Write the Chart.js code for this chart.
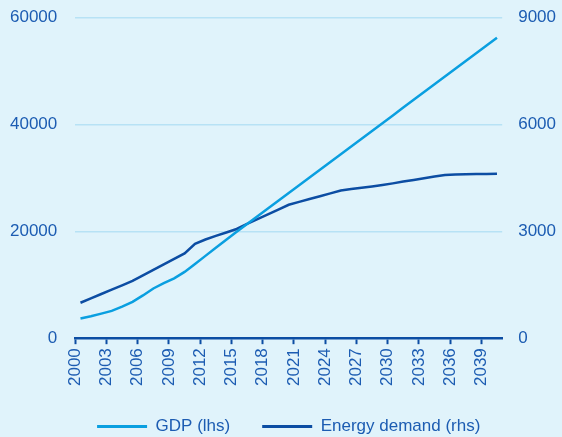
<!DOCTYPE html>
<html>
<head>
<meta charset="utf-8">
<script src="https://cdn.jsdelivr.net/npm/chart.js@4.4.1/dist/chart.umd.min.js"></script>
<style>
  html, body { margin: 0; padding: 0; background: #e0f3fb; }
  #wrap { width: 562px; height: 437px; position: relative; }
</style>
</head>
<body>
<div id="wrap"><canvas id="myChart"></canvas></div>
<script>
// annual series, 2000-2040
const years = [2000, 2001, 2002, 2003, 2004, 2005, 2006, 2007, 2008, 2009,
  2010, 2011, 2012, 2013, 2014, 2015, 2016, 2017, 2018, 2019,
  2020, 2021, 2022, 2023, 2024, 2025, 2026, 2027, 2028, 2029,
  2030, 2031, 2032, 2033, 2034, 2035, 2036, 2037, 2038, 2039, 2040];

const gdp = [3700, 4100, 4600, 5100, 5900, 6800, 8000, 9300, 10300, 11200,
  12400, 13900, 15400, 16900, 18400, 19900, 21350, 22810, 24260, 25710,
  27160, 28620, 30070, 31520, 32970, 34420, 35880, 37330, 38780, 40230,
  41680, 43140, 44590, 46040, 47490, 48940, 50400, 51850, 53300, 54750, 56200];

const energyDemand = [995, 1117, 1240, 1362, 1484, 1606, 1760, 1915, 2070, 2225,
  2380, 2650, 2770, 2870, 2965, 3065, 3210, 3340, 3475, 3610,
  3745, 3825, 3905, 3985, 4065, 4145, 4185, 4225, 4260, 4300,
  4345, 4395, 4440, 4490, 4535, 4580, 4595, 4600, 4605, 4610, 4612];

const tickYears = [2000, 2003, 2006, 2009, 2012, 2015, 2018, 2021, 2024, 2027, 2030, 2033, 2036, 2039];
const leftTicks = [0, 20000, 40000, 60000];
const rightTicks = [0, 3000, 6000, 9000];

const textColor = "#1c5cb2";
const gdpColor = "#0a9fe0";
const energyColor = "#0c4da3";
const gridColor = "#b7e2f5";

// each year is plotted in the middle of its slot
function toPoints(values) {
  return years.map(function (y, i) {
    return { x: y + 0.5, y: values[i] };
  });
}

// centre the legend under the plot rather than the canvas
const legendShift = {
  id: "legendShift",
  afterLayout: function (chart) {
    const lg = chart.legend;
    const dx = (chart.chartArea.left + chart.chartArea.right) / 2 - (lg.left + lg.right) / 2;
    lg.left += dx;
    lg.right += dx;
  },
};

// tighter axis boxes: the tick padding only once, no label overhang
function fitX(axis) {
  axis.paddingLeft = 0;
  axis.paddingRight = 0;
  axis.height -= axis.options.ticks.padding;
}
function fitY(axis) {
  axis.paddingTop = 8;
  axis.paddingBottom = 0;
  axis.width -= axis.options.ticks.padding;
}

Chart.defaults.font.family = "'Liberation Sans', Arial, sans-serif";
Chart.defaults.font.size = 17;
Chart.defaults.color = textColor;

const ctx = document.getElementById("myChart").getContext("2d");
const myChart = new Chart(ctx, {
  type: "line",
  data: {
    datasets: [
      {
        label: "GDP (lhs)",
        data: toPoints(gdp),
        yAxisID: "y",
        borderColor: gdpColor,
        backgroundColor: gdpColor,
        borderWidth: 2.5,
        pointRadius: 0,
        tension: 0,
      },
      {
        label: "Energy demand (rhs)",
        data: toPoints(energyDemand),
        yAxisID: "y1",
        borderColor: energyColor,
        backgroundColor: energyColor,
        borderWidth: 2.5,
        pointRadius: 0,
        tension: 0,
      },
    ],
  },
  plugins: [legendShift],
  options: {
    responsive: true,
    maintainAspectRatio: false,
    animation: false,
    layout: {
      padding: { top: 17.5, left: 10, right: 6, bottom: -8 },
    },
    plugins: {
      tooltip: { enabled: false },
      legend: {
        position: "bottom",
        labels: {
          boxWidth: 50,
          boxHeight: 3,
          padding: 32,
          color: textColor,
          font: { size: 17 },
          generateLabels: function (chart) {
            return chart.data.datasets.map(function (ds, i) {
              return {
                text: ds.label,
                fillStyle: ds.borderColor,
                strokeStyle: ds.borderColor,
                lineWidth: 0,
                datasetIndex: i,
                fontColor: textColor,
              };
            });
          },
        },
      },
    },
    scales: {
      x: {
        type: "linear",
        min: 2000,
        max: 2041,
        afterBuildTicks: function (axis) {
          axis.ticks = tickYears.map(function (v) { return { value: v }; });
        },
        afterFit: fitX,
        ticks: {
          minRotation: 90,
          maxRotation: 90,
          padding: 4,
          color: textColor,
          callback: function (v) { return String(v); },
        },
        grid: {
          drawOnChartArea: false,
          drawTicks: true,
          tickLength: 6,
          tickWidth: 2,
          tickColor: energyColor,
        },
        border: { color: energyColor, width: 2.5 },
      },
      y: {
        position: "left",
        min: 0,
        max: 60000,
        afterBuildTicks: function (axis) {
          axis.ticks = leftTicks.map(function (v) { return { value: v }; });
        },
        afterFit: fitY,
        ticks: { padding: 18, color: textColor, callback: function (v) { return String(v); } },
        grid: { color: gridColor, lineWidth: 1.5, drawTicks: false },
        border: { display: false },
      },
      y1: {
        position: "right",
        min: 0,
        max: 9000,
        afterBuildTicks: function (axis) {
          axis.ticks = rightTicks.map(function (v) { return { value: v }; });
        },
        afterFit: fitY,
        ticks: { padding: 16, color: textColor, callback: function (v) { return String(v); } },
        grid: { drawOnChartArea: false, drawTicks: false },
        border: { display: false },
      },
    },
  },
});
</script>
</body>
</html>
